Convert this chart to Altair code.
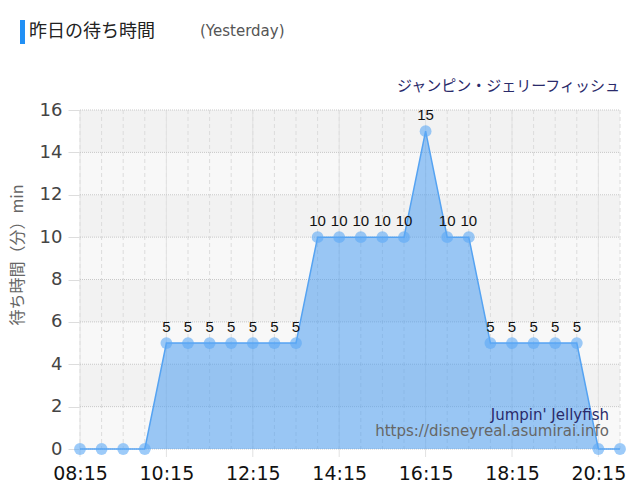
import altair as alt
import pandas as pd

# ---- data ----
times = ["08:15", "08:45", "09:15", "09:45", "10:15", "10:45", "11:15", "11:45",
         "12:15", "12:45", "13:15", "13:45", "14:15", "14:45", "15:15", "15:45",
         "16:15", "16:45", "17:15", "17:45", "18:15", "18:45", "19:15", "19:45",
         "20:15", "20:45"]
waits = [0, 0, 0, 0, 5, 5, 5, 5, 5, 5, 5, 10, 10, 10, 10, 10, 15, 10, 10,
         5, 5, 5, 5, 5, 0, 0]
x_tick_labels = ["08:15", "10:15", "12:15", "14:15", "16:15", "18:15", "20:15"]
y_ticks = [0, 2, 4, 6, 8, 10, 12, 14, 16]

title_text = "昨日の待ち時間"
subtitle_text = "(Yesterday)"
attraction_jp = "ジャンピン・ジェリーフィッシュ"
attraction_en = "Jumpin' Jellyfish"
site_url = "https://disneyreal.asumirai.info"
y_title = "待ち時間（分）min"


def to_min(t):
    h, m = t.split(":")
    return int(h) * 60 + int(m)


df = pd.DataFrame({"time": times, "wait": waits})
df["t"] = df["time"].map(to_min)
df["label"] = df["wait"].map(lambda v: str(v) if v > 0 else "")

major = pd.DataFrame({"t": [to_min(t) for t in x_tick_labels]})
minor = pd.DataFrame({"t": df["t"]})
hgrid = pd.DataFrame({"wait": y_ticks})
bands = pd.DataFrame({"wait": y_ticks[:-1], "wait_end": y_ticks[1:]})
bands["shade"] = [i % 2 for i in range(len(bands))]

W, H = 540, 339
xs = alt.Scale(domain=[to_min(times[0]), to_min(times[-1])], nice=False, zero=False)
ys = alt.Scale(domain=[y_ticks[0], y_ticks[-1]], nice=False)

label_expr = "format(floor(datum.value/60),'02d') + ':' + format(datum.value % 60,'02d')"

x_axis = alt.Axis(values=list(major["t"]), labelExpr=label_expr,
                  labelFontSize=19, labelColor="#111", labelFont="DejaVu Sans",
                  grid=False, ticks=False, domain=False, labelPadding=15,
                  labelFlush=False, title=None)
y_axis = alt.Axis(values=y_ticks, labelFontSize=18, labelColor="#444",
                  labelFont="DejaVu Sans", grid=False, tickSize=12,
                  tickColor="#dddddd", domainColor="#bbbbbb", labelPadding=6, title=None)


def X(f="t:Q"):
    return alt.X(f, scale=xs, axis=x_axis)


def Y(f="wait:Q"):
    return alt.Y(f, scale=ys, axis=y_axis)


band_layer = alt.Chart(bands).mark_rect().encode(
    y=Y(), y2="wait_end:Q",
    x=alt.value(0), x2=alt.value(W),
    color=alt.Color("shade:N", scale=alt.Scale(domain=[0, 1], range=["#f8f8f8", "#f2f2f2"]),
                    legend=None),
)

minor_layer = alt.Chart(minor).mark_rule(strokeDash=[4, 3], color="#dcdcdc", strokeWidth=1).encode(
    x=X(), y=alt.value(0), y2=alt.value(H)
)
major_layer = alt.Chart(major).mark_rule(color="#e2e2e2", strokeWidth=1).encode(
    x=X(), y=alt.value(0), y2=alt.value(H + 8)
)
hgrid_layer = alt.Chart(hgrid).mark_rule(strokeDash=[1, 1], color="#c8c8c8", strokeWidth=1).encode(
    y=Y(), x=alt.value(0), x2=alt.value(W)
)

base = alt.Chart(df)
area = base.mark_area(color="#4a9df0", opacity=0.55).encode(x=X(), y=Y())
line = base.mark_line(color="#55a3f2", strokeWidth=1.5).encode(x=X(), y=Y())
pts = base.mark_circle(size=140, color="#5ca8f5", opacity=0.6).encode(x=X(), y=Y())
labels = base.mark_text(dy=-11, baseline="alphabetic", fontSize=15, font="Liberation Sans",
                        color="#111").encode(x=X(), y=Y(), text="label:N")


def txt(s, x, y, **kw):
    return alt.Chart(pd.DataFrame({"s": [s]})).mark_text(**kw).encode(
        x=alt.value(x), y=alt.value(y), text="s:N")


bar = alt.Chart(pd.DataFrame({"a": [1]})).mark_rect(color="#2190f5").encode(
    x=alt.value(-60), x2=alt.value(-55), y=alt.value(-90), y2=alt.value(-66))

t1 = txt(title_text, -51, -78, align="left", baseline="middle", fontSize=18,
         font="Noto Sans CJK JP", color="#222")
t2 = txt(subtitle_text, 120, -79, align="left", baseline="middle", fontSize=15,
         font="DejaVu Sans", color="#555")
t3 = txt(attraction_jp, 540, -24, align="right", baseline="middle", fontSize=15,
         font="Noto Sans CJK JP", color="#2a2a6a")
t4 = txt(attraction_en, 529, 305, align="right", baseline="middle", fontSize=15,
         font="DejaVu Sans", color="#2a2a6a")
t5 = txt(site_url, 529, 321, align="right", baseline="middle", fontSize=15,
         font="DejaVu Sans", color="#666")
t6 = txt(y_title, -62, 145, align="center", baseline="middle", fontSize=16, angle=270,
         font="Noto Sans CJK JP", color="#666")

chart = alt.layer(
    band_layer, minor_layer, major_layer, hgrid_layer, area, line, pts, labels,
    bar, t1, t2, t3, t4, t5, t6
).resolve_scale(color="independent").properties(
    width=W, height=H,
    autosize=alt.AutoSizeParams(type="none"),
    padding={"left": 72, "top": 102, "right": 12, "bottom": 43},
    background="white",
).configure_view(stroke=None)

chart.save("out.html", embed_options={"renderer": "svg", "actions": False})
